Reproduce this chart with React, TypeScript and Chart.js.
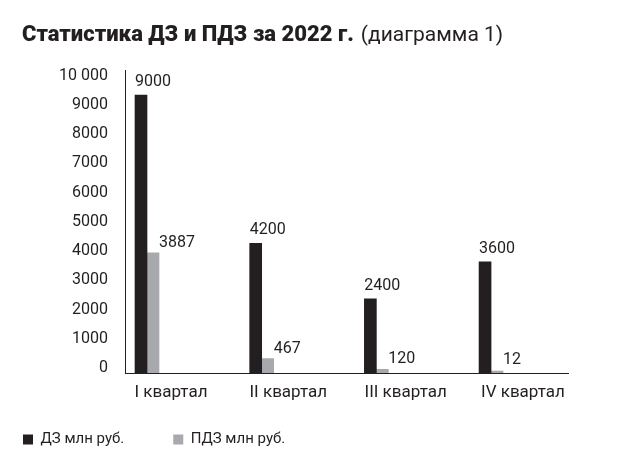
import React, { useEffect, useRef } from "react";
import { Chart, registerables } from "chart.js";

Chart.register(...registerables);

const titleBold = "Статистика ДЗ и ПДЗ за 2022 г.";
const titleNormal = "(диаграмма 1)";
const categories = ["I квартал", "II квартал", "III квартал", "IV квартал"];
const seriesNames = ["ДЗ млн руб.", "ПДЗ млн руб."];
const dzValues = [9000, 4200, 2400, 3600];
const pdzValues = [3887, 467, 120, 12];
const dzLabels = ["9000", "4200", "2400", "3600"];
const pdzLabels = ["3887", "467", "120", "12"];
const yTickValues = [0, 1000, 2000, 3000, 4000, 5000, 6000, 7000, 8000, 9000, 10000];
const yTickLabels = ["0", "1000", "2000", "3000", "4000", "5000", "6000", "7000", "8000", "9000", "10 000"];

const TEXT = "#231f20";
const DARK = "#231f20";
const GRAY = "#a7a9ac";

export default function App() {
  const ref = useRef<HTMLCanvasElement | null>(null);

  useEffect(() => {
    document.body.style.margin = "0";
    const canvas = ref.current;
    if (!canvas) return;

    const titlePlugin = {
      id: "mixedTitle",
      afterDraw(chart: any) {
        const ctx = chart.ctx;
        ctx.save();
        ctx.fillStyle = TEXT;
        ctx.textAlign = "left";
        ctx.textBaseline = "alphabetic";
        ctx.font = "900 22px Roboto";
        ctx.fillText(titleBold, 22, 41);
        const w = ctx.measureText(titleBold).width;
        ctx.font = "400 21px Roboto";
        ctx.fillText(titleNormal, 22 + w + 7, 41);
        ctx.restore();
      },
    };

    // category labels placed through the x2 axis' own value-to-pixel mapping
    const categoryPlugin = {
      id: "categoryLabels",
      afterDraw(chart: any) {
        const scale = chart.scales.x2;
        if (!scale) return;
        const ctx = chart.ctx;
        ctx.save();
        ctx.fillStyle = TEXT;
        ctx.textAlign = "center";
        ctx.textBaseline = "alphabetic";
        ctx.font = "400 17px Roboto";
        categories.forEach((c, i) => {
          ctx.fillText(c, scale.getPixelForValue(i), scale.top + 24);
        });
        ctx.restore();
      },
    };

    const valueLabels = [dzLabels, pdzLabels];
    const valuePlugin = {
      id: "valueLabels",
      afterDatasetsDraw(chart: any) {
        const ctx = chart.ctx;
        ctx.save();
        ctx.fillStyle = TEXT;
        ctx.textAlign = "left";
        ctx.textBaseline = "alphabetic";
        ctx.font = "400 16px Roboto";
        chart.data.datasets.forEach((_ds: any, di: number) => {
          const meta = chart.getDatasetMeta(di);
          meta.data.forEach((bar: any, i: number) => {
            const p = bar.getProps(["x", "y", "base", "width"], true);
            const tx = di === 0 ? p.x - p.width / 2 : p.x + p.width / 2;
            const gap = di === 0 ? 9 : 6;
            const ty = Math.min(p.y - gap, p.base - 9.5);
            ctx.fillText(valueLabels[di][i], tx, ty);
          });
        });
        ctx.restore();
      },
    };

    const chart = new Chart(canvas, {
      type: "bar",
      data: {
        datasets: [
          {
            label: seriesNames[0],
            data: dzValues.map((v, i) => ({ x: i, y: v })),
            backgroundColor: DARK,
            barThickness: 12,
            xAxisID: "x",
            yAxisID: "y",
          },
          {
            label: seriesNames[1],
            data: pdzValues.map((v, i) => ({ x: i, y: v })),
            backgroundColor: GRAY,
            barThickness: 12,
            minBarLength: 2,
            xAxisID: "x",
            yAxisID: "y",
          },
        ],
      } as any,
      options: {
        animation: false,
        responsive: false,
        layout: { padding: { left: -26, top: 70, right: 72, bottom: -7 } },
        scales: {
          x: {
            type: "linear",
            display: false,
            offset: false,
            min: -0.1919,
            max: 3.671,
            grid: { offset: false },
            afterBuildTicks: (s: any) => {
              s.ticks = categories.map((_c, i) => ({ value: i }));
            },
          },
          y: { type: "linear", display: false, min: 0, max: 9809 },
          x2: {
            type: "linear",
            position: "bottom",
            offset: false,
            min: -0.392,
            max: 3.384,
            grid: { display: false, drawTicks: false, offset: false },
            border: { display: true, color: DARK, width: 1 },
            ticks: { display: false },
            afterBuildTicks: (s: any) => {
              s.ticks = categories.map((_c, i) => ({ value: i }));
            },
            afterFit: (s: any) => {
              s.height = 10;
            },
          },
          y2: {
            type: "linear",
            position: "left",
            min: -171,
            max: 10195,
            grid: { display: false, drawTicks: false },
            border: { display: true, color: DARK, width: 1 },
            ticks: {
              padding: 17,
              autoSkip: false,
              color: TEXT,
              font: { family: "Roboto", size: 16 },
              callback: (_v: any, index: number) => yTickLabels[index],
            },
            afterBuildTicks: (s: any) => {
              s.ticks = yTickValues.map((v) => ({ value: v }));
            },
            afterFit: (s: any) => {
              s.width = 151;
            },
          },
        } as any,
        plugins: {
          legend: {
            display: true,
            position: "bottom",
            align: "start",
            labels: {
              boxWidth: 10,
              boxHeight: 10,
              padding: 49,
              color: TEXT,
              font: { family: "Roboto", size: 15 },
            },
          },
          tooltip: { enabled: false },
          title: { display: false },
        },
      },
      plugins: [titlePlugin, categoryPlugin, valuePlugin],
    });

    return () => chart.destroy();
  }, []);

  return (
    <div style={{ width: 640, height: 450, background: "#fff" }}>
      <canvas ref={ref} width={640} height={450} style={{ display: "block" }} />
    </div>
  );
}
